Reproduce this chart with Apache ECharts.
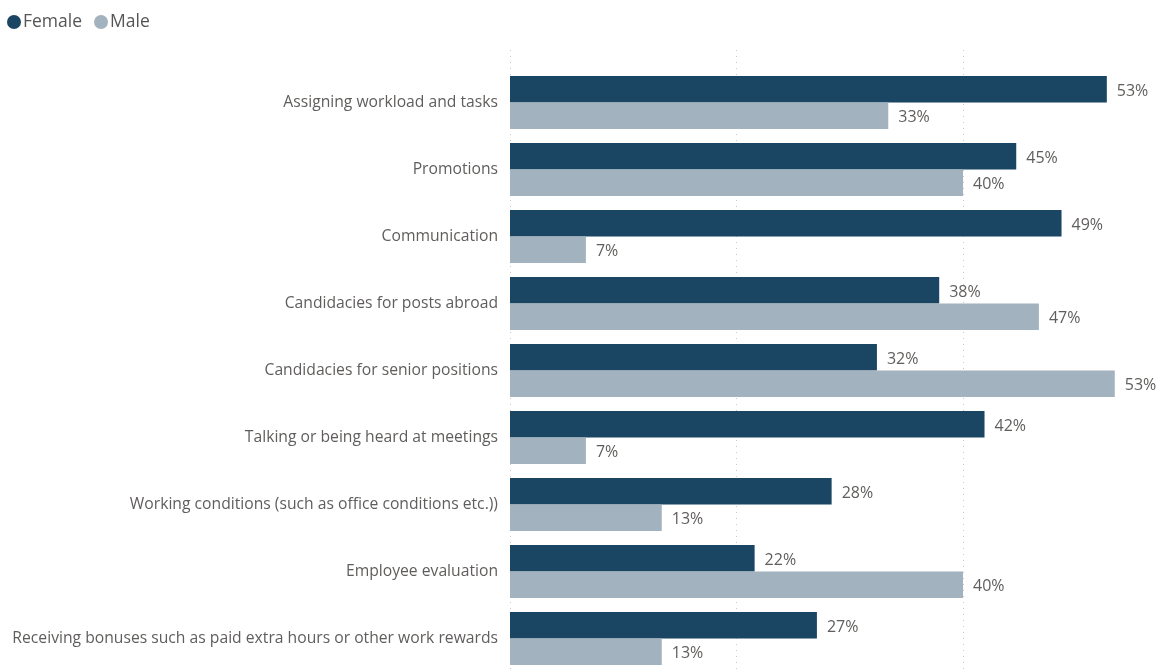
<!DOCTYPE html>
<html>
<head>
<meta charset="utf-8">
<script src="https://cdn.jsdelivr.net/npm/echarts@6/dist/echarts.min.js"></script>
<style>
html,body{margin:0;padding:0;background:#fff;}
#chart{width:1159px;height:671px;}
</style>
</head>
<body>
<div id="chart"></div>
<script>
const categories = [
  "Assigning workload and tasks",
  "Promotions",
  "Communication",
  "Candidacies for posts abroad",
  "Candidacies for senior positions",
  "Talking or being heard at meetings",
  "Working conditions (such as office conditions etc.))",
  "Employee evaluation",
  "Receiving bonuses such as paid extra hours or other work rewards"
];
const femaleValues = [52.7, 44.7, 48.7, 37.9, 32.4, 41.9, 28.4, 21.6, 27.1];
const maleValues = [33.4, 40.0, 6.7, 46.7, 53.4, 6.7, 13.4, 40.0, 13.4];
const seriesNames = ["Female", "Male"];

const FONT = "'Open Sans', 'Noto Sans', sans-serif";
const chart = echarts.init(document.getElementById('chart'), null, {renderer: 'canvas'});
const labelCfg = {
  show: true, position: 'right', distance: 10, offset: [0, 2],
  color: '#605e5c', fontSize: 16, fontFamily: FONT,
  formatter: p => Math.round(p.value) + '%'
};
chart.setOption({
  animation: false,
  backgroundColor: '#fff',
  legend: {
    left: 2, top: 8, icon: 'circle', itemWidth: 14, itemHeight: 14, itemGap: 12,
    textStyle: {color: '#555', fontSize: 17.5, fontFamily: FONT, padding: [0,0,0,-3]},
    data: seriesNames
  },
  grid: [
    {left: 510, width: 679.5, top: 69, height: 603, containLabel: false, outerBoundsMode: 'none'},
    {left: 510, width: 679.5, top: 50, bottom: 0, containLabel: false, outerBoundsMode: 'none'}
  ],
  xAxis: [
    {gridIndex: 0, type: 'value', min: 0, max: 60, interval: 20,
     axisLine: {show: false}, axisTick: {show: false}, axisLabel: {show: false}, splitLine: {show: false}},
    {gridIndex: 1, type: 'value', min: 0, max: 60, interval: 20,
     axisLine: {show: false}, axisTick: {show: false}, axisLabel: {show: false},
     splitLine: {show: true, lineStyle: {color: '#c8c8c8', type: [1, 5], width: 1}}}
  ],
  yAxis: [
    {gridIndex: 0, type: 'category', data: categories, inverse: true,
     axisLine: {show: false}, axisTick: {show: false},
     axisLabel: {color: '#605e5c', fontSize: 15.7, fontFamily: FONT, margin: 12, padding: [4, 0, 0, 0]}},
    {gridIndex: 1, type: 'category', data: [''], show: false}
  ],
  series: [
    {name: seriesNames[0], type: 'bar', xAxisIndex: 0, yAxisIndex: 0, data: femaleValues,
     itemStyle: {color: '#1a4563'}, barGap: '0%', barCategoryGap: '21%', label: labelCfg},
    {name: seriesNames[1], type: 'bar', xAxisIndex: 0, yAxisIndex: 0, data: maleValues,
     itemStyle: {color: '#a2b2be'}, barGap: '0%', barCategoryGap: '21%', label: labelCfg}
  ]
});
</script>
</body>
</html>
